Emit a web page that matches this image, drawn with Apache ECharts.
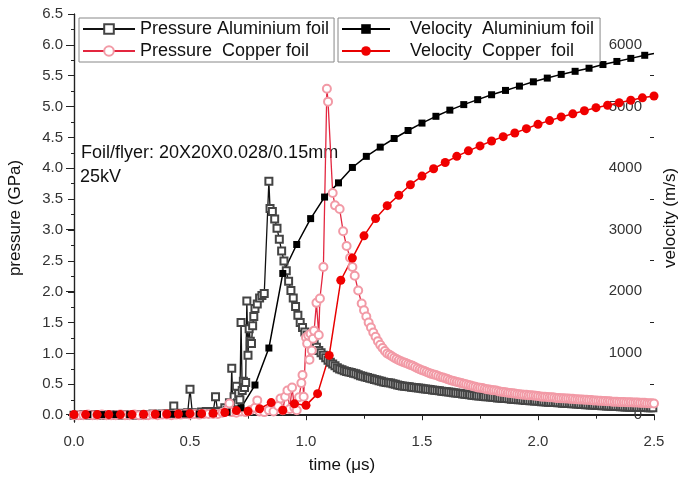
<!DOCTYPE html>
<html>
<head>
<meta charset="utf-8">
<script src="https://cdn.jsdelivr.net/npm/echarts@6/dist/echarts.min.js"></script>
<style>
  html, body { margin: 0; padding: 0; background: #fff; }
  #chart { width: 680px; height: 479px; }
</style>
</head>
<body>
<div id="chart"></div>
<script>
  // tick values
  const timeTicks = [0, 0.5, 1.0, 1.5, 2.0, 2.5]
  const pressureTicks = [0, 0.5, 1, 1.5, 2, 2.5, 3, 3.5, 4, 4.5, 5, 5.5, 6, 6.5]
  const pressureMinor = [0.25, 0.75, 1.25, 1.75, 2.25, 2.75, 3.25, 3.75, 4.25, 4.75, 5.25, 5.75, 6.25]
  const velocityTicks = [0, 1000, 2000, 3000, 4000, 5000, 6000]
  const velocityMinor = [500, 1500, 2500, 3500, 4500, 5500]

  // [time (us), pressure (GPa)]
  const pressureAl = [
    [0, 0], [0.02, 0], [0.04, 0.01], [0.06, 0], [0.08, 0.01], [0.10, 0], [0.12, 0.01], [0.14, 0],
    [0.16, 0], [0.18, 0.01], [0.20, 0], [0.22, 0.01], [0.24, 0], [0.26, 0], [0.28, 0.01], [0.30, 0],
    [0.32, 0.01], [0.34, 0.02], [0.36, 0.01], [0.38, 0.02], [0.40, 0.02], [0.42, 0.02], [0.43, 0.15],
    [0.44, 0.02], [0.46, 0.03], [0.48, 0.02], [0.49, 0.04], [0.50, 0.42], [0.51, 0.04], [0.53, 0.03],
    [0.55, 0.05], [0.57, 0.06], [0.59, 0.04], [0.60, 0.06], [0.61, 0.30], [0.62, 0.05], [0.64, 0.07],
    [0.65, 0.12], [0.66, 0.08], [0.67, 0.20], [0.675, 0.06], [0.68, 0.76], [0.685, 0.12], [0.69, 0.30],
    [0.70, 0.47], [0.705, 0.20], [0.71, 0.35], [0.715, 0.25], [0.72, 1.50], [0.725, 0.40], [0.73, 0.55],
    [0.735, 0.45], [0.74, 0.53], [0.745, 1.85], [0.75, 0.97], [0.755, 1.40], [0.76, 1.20], [0.765, 1.16],
    [0.77, 1.45], [0.775, 1.60], [0.78, 1.73], [0.79, 1.80], [0.80, 1.90], [0.81, 1.94], [0.82, 1.97],
    [0.84, 3.79], [0.845, 3.35], [0.855, 3.30], [0.865, 3.18], [0.875, 3.03], [0.885, 2.85], [0.895, 2.66],
    [0.905, 2.50], [0.915, 2.34], [0.925, 2.17], [0.935, 2.02], [0.945, 1.90], [0.955, 1.76], [0.965, 1.62],
    [0.975, 1.50], [0.985, 1.42], [0.995, 1.35], [1.005, 1.30], [1.015, 1.25], [1.025, 1.20], [1.035, 1.15],
    [1.045, 1.10], [1.055, 1.05], [1.065, 1.01], [1.075, 0.97], [1.085, 0.93], [1.095, 0.89], [1.105, 0.86],
    [1.115, 0.83], [1.125, 0.80], [1.135, 0.77], [1.145, 0.75], [1.155, 0.735], [1.165, 0.72], [1.175, 0.71],
    [1.185, 0.70], [1.195, 0.69], [1.205, 0.68], [1.215, 0.67], [1.225, 0.655], [1.235, 0.64], [1.245, 0.63],
    [1.255, 0.62], [1.265, 0.61], [1.275, 0.60], [1.285, 0.59], [1.295, 0.58], [1.305, 0.57], [1.315, 0.56],
    [1.325, 0.55], [1.335, 0.54], [1.345, 0.53], [1.355, 0.525], [1.365, 0.52], [1.375, 0.51], [1.385, 0.50],
    [1.395, 0.49], [1.405, 0.48], [1.415, 0.475], [1.425, 0.47], [1.435, 0.465], [1.445, 0.46], [1.455, 0.455],
    [1.465, 0.45], [1.475, 0.445], [1.485, 0.44], [1.495, 0.435], [1.505, 0.43], [1.515, 0.425], [1.525, 0.42],
    [1.535, 0.415], [1.545, 0.41], [1.555, 0.405], [1.565, 0.40], [1.575, 0.395], [1.585, 0.39], [1.595, 0.385],
    [1.605, 0.38], [1.615, 0.375], [1.625, 0.37], [1.635, 0.365], [1.645, 0.36], [1.655, 0.355], [1.665, 0.35],
    [1.675, 0.345], [1.685, 0.34], [1.695, 0.335], [1.705, 0.33], [1.715, 0.325], [1.725, 0.32], [1.735, 0.315],
    [1.745, 0.31], [1.755, 0.31], [1.765, 0.305], [1.775, 0.30], [1.785, 0.30], [1.795, 0.295], [1.805, 0.29],
    [1.815, 0.285], [1.825, 0.28], [1.835, 0.28], [1.845, 0.275], [1.855, 0.27], [1.865, 0.27], [1.875, 0.265],
    [1.885, 0.26], [1.895, 0.26], [1.905, 0.255], [1.915, 0.25], [1.925, 0.25], [1.935, 0.245], [1.945, 0.24],
    [1.955, 0.24], [1.965, 0.235], [1.975, 0.235], [1.985, 0.23], [1.995, 0.23], [2.005, 0.225], [2.015, 0.22],
    [2.025, 0.22], [2.035, 0.215], [2.045, 0.21], [2.055, 0.21], [2.065, 0.205], [2.075, 0.205], [2.085, 0.20],
    [2.095, 0.20], [2.105, 0.195], [2.115, 0.195], [2.125, 0.19], [2.135, 0.19], [2.145, 0.185], [2.155, 0.185],
    [2.165, 0.18], [2.175, 0.18], [2.185, 0.175], [2.195, 0.175], [2.205, 0.17], [2.215, 0.17], [2.225, 0.165],
    [2.235, 0.165], [2.245, 0.16], [2.255, 0.16], [2.265, 0.158], [2.275, 0.155], [2.285, 0.152], [2.295, 0.15],
    [2.305, 0.148], [2.315, 0.146], [2.325, 0.144], [2.335, 0.142], [2.345, 0.14], [2.355, 0.138], [2.365, 0.136],
    [2.375, 0.134], [2.385, 0.132], [2.395, 0.13], [2.405, 0.13], [2.415, 0.128], [2.425, 0.127], [2.435, 0.126],
    [2.445, 0.125], [2.455, 0.124], [2.465, 0.123], [2.475, 0.122], [2.485, 0.121], [2.495, 0.12]
  ]

  const pressureCu = [
    [0, 0], [0.02, 0], [0.04, 0], [0.06, 0.01], [0.08, 0], [0.10, 0], [0.12, 0.01], [0.14, 0],
    [0.16, 0], [0.18, 0], [0.20, 0.01], [0.22, 0], [0.24, 0], [0.26, 0.01], [0.28, 0], [0.30, 0],
    [0.32, 0], [0.34, 0.01], [0.36, 0], [0.38, 0.01], [0.40, 0.01], [0.42, 0], [0.44, 0.01], [0.46, 0.01],
    [0.48, 0.02], [0.50, 0.01], [0.52, 0.02], [0.54, 0.01], [0.56, 0.02], [0.58, 0.02], [0.60, 0.02],
    [0.62, 0.02], [0.64, 0.04], [0.66, 0.08], [0.67, 0.19], [0.68, 0.05], [0.70, 0.04], [0.72, 0.06],
    [0.74, 0.05], [0.76, 0.08], [0.78, 0.12], [0.79, 0.24], [0.80, 0.06], [0.82, 0.05], [0.84, 0.08],
    [0.86, 0.06], [0.88, 0.15], [0.89, 0.27], [0.90, 0.08], [0.91, 0.30], [0.92, 0.40], [0.93, 0.10],
    [0.94, 0.45], [0.95, 0.12], [0.96, 0.08], [0.97, 0.29], [0.98, 0.52], [0.985, 0.65], [0.99, 0.30],
    [1.00, 1.26], [1.005, 1.16], [1.01, 1.29], [1.015, 0.90], [1.02, 1.32], [1.025, 1.05], [1.03, 1.24],
    [1.035, 1.37], [1.045, 1.82], [1.055, 1.30], [1.06, 1.89], [1.075, 2.40], [1.09, 5.29], [1.095, 5.08],
    [1.115, 3.60], [1.125, 3.40], [1.145, 3.34], [1.16, 2.98], [1.175, 2.74], [1.19, 2.55], [1.20, 2.40],
    [1.21, 2.26], [1.225, 2.02], [1.24, 1.81], [1.25, 1.70], [1.26, 1.60], [1.27, 1.50], [1.28, 1.42],
    [1.29, 1.34], [1.30, 1.27], [1.31, 1.20], [1.32, 1.14], [1.33, 1.09], [1.34, 1.04], [1.35, 1.00],
    [1.36, 0.98], [1.37, 0.955], [1.38, 0.93], [1.39, 0.91], [1.40, 0.89], [1.41, 0.875], [1.42, 0.86],
    [1.43, 0.845], [1.44, 0.83], [1.45, 0.815], [1.46, 0.80], [1.47, 0.78], [1.48, 0.76], [1.49, 0.745],
    [1.50, 0.73], [1.51, 0.715], [1.52, 0.70], [1.53, 0.685], [1.54, 0.67], [1.55, 0.66], [1.56, 0.65],
    [1.57, 0.635], [1.58, 0.62], [1.59, 0.61], [1.60, 0.60], [1.61, 0.585], [1.62, 0.57], [1.63, 0.56],
    [1.64, 0.55], [1.65, 0.54], [1.66, 0.53], [1.67, 0.52], [1.68, 0.51], [1.69, 0.50], [1.70, 0.49],
    [1.71, 0.48], [1.72, 0.47], [1.73, 0.46], [1.74, 0.45], [1.75, 0.445], [1.76, 0.44], [1.77, 0.43],
    [1.78, 0.42], [1.79, 0.415], [1.80, 0.41], [1.81, 0.405], [1.82, 0.40], [1.83, 0.39], [1.84, 0.38],
    [1.85, 0.375], [1.86, 0.37], [1.87, 0.365], [1.88, 0.36], [1.89, 0.355], [1.90, 0.35], [1.91, 0.345],
    [1.92, 0.34], [1.93, 0.335], [1.94, 0.33], [1.95, 0.33], [1.96, 0.325], [1.97, 0.325], [1.98, 0.32],
    [1.99, 0.315], [2.00, 0.31], [2.01, 0.305], [2.02, 0.30], [2.03, 0.30], [2.04, 0.295], [2.05, 0.29],
    [2.06, 0.29], [2.07, 0.285], [2.08, 0.28], [2.09, 0.28], [2.10, 0.275], [2.11, 0.275], [2.12, 0.27],
    [2.13, 0.27], [2.14, 0.265], [2.15, 0.265], [2.16, 0.26], [2.17, 0.26], [2.18, 0.255], [2.19, 0.255],
    [2.20, 0.25], [2.21, 0.25], [2.22, 0.245], [2.23, 0.245], [2.24, 0.24], [2.25, 0.24], [2.26, 0.235],
    [2.27, 0.235], [2.28, 0.23], [2.29, 0.23], [2.30, 0.225], [2.31, 0.225], [2.32, 0.22], [2.33, 0.22],
    [2.34, 0.22], [2.35, 0.215], [2.36, 0.215], [2.37, 0.215], [2.38, 0.21], [2.39, 0.21], [2.40, 0.21],
    [2.41, 0.205], [2.42, 0.205], [2.43, 0.205], [2.44, 0.20], [2.45, 0.20], [2.46, 0.20], [2.47, 0.195],
    [2.48, 0.195], [2.49, 0.195], [2.50, 0.19]
  ]

  // [time (us), velocity (m/s)]
  const velocityAl = [
    [0, 0], [0.06, 0], [0.12, 0], [0.18, 0], [0.24, 0], [0.30, 0], [0.36, 5], [0.42, 5], [0.48, 10],
    [0.54, 10], [0.60, 20], [0.66, 40], [0.72, 110], [0.78, 480], [0.84, 1080], [0.90, 2290], [0.96, 2760],
    [1.02, 3180], [1.08, 3530], [1.14, 3760], [1.20, 4010], [1.26, 4190], [1.32, 4340], [1.38, 4480],
    [1.44, 4610], [1.50, 4730], [1.56, 4840], [1.62, 4940], [1.68, 5030], [1.74, 5110], [1.80, 5190],
    [1.86, 5260], [1.92, 5330], [1.98, 5400], [2.04, 5460], [2.10, 5520], [2.16, 5570], [2.22, 5620],
    [2.28, 5680], [2.34, 5730], [2.40, 5780], [2.46, 5830], [2.50, 5860]
  ]

  const velocityCu = [
    [0, 0], [0.05, 0], [0.10, 0], [0.15, 0], [0.20, 0], [0.25, 0], [0.30, 5], [0.35, 5], [0.40, 10],
    [0.45, 10], [0.50, 15], [0.55, 15], [0.60, 20], [0.65, 35], [0.70, 65], [0.75, 55], [0.80, 95],
    [0.85, 195], [0.90, 70], [0.95, 175], [1.00, 150], [1.05, 340], [1.10, 960], [1.15, 2180],
    [1.20, 2540], [1.25, 2900], [1.30, 3180], [1.35, 3390], [1.40, 3560], [1.45, 3730], [1.50, 3870],
    [1.55, 3990], [1.60, 4090], [1.65, 4190], [1.70, 4280], [1.75, 4360], [1.80, 4440], [1.85, 4510],
    [1.90, 4570], [1.95, 4640], [2.00, 4710], [2.05, 4770], [2.10, 4830], [2.15, 4880], [2.20, 4930],
    [2.25, 4980], [2.30, 5020], [2.35, 5060], [2.40, 5100], [2.45, 5140], [2.50, 5170]
  ]

  const font = '"Liberation Sans", Arial, sans-serif'
  const axisColor = '#222'
  const labelColor = '#333'

  const dom = echarts.init(document.getElementById('chart'))

  const option = {
    animation: false,
    backgroundColor: '#fff',
    textStyle: { fontFamily: font },
    grid: { left: 74, right: 26, top: 14, bottom: 57, outerBoundsMode: 'none' },
    legend: [
      {
        data: ['Pressure Aluminium foil', 'Pressure  Copper foil'],
        orient: 'vertical',
        left: 79,
        top: 18,
        padding: [2, 5, 2, 3],
        itemGap: 4,
        itemWidth: 52,
        itemHeight: 12,
        borderColor: '#888',
        borderWidth: 1,
        backgroundColor: '#fff',
        textStyle: { fontSize: 18, color: '#111', fontFamily: font }
      },
      {
        data: ['Velocity  Aluminium foil', 'Velocity  Copper  foil'],
        orient: 'vertical',
        left: 338,
        top: 18,
        padding: [2, 6, 2, 3],
        itemGap: 4,
        itemWidth: 48,
        itemHeight: 12,
        borderColor: '#888',
        borderWidth: 1,
        backgroundColor: '#fff',
        formatter: name => '   ' + name,
        textStyle: { fontSize: 18, color: '#111', fontFamily: font }
      }
    ],
    graphic: [
      { type: 'text', left: 81, top: 144, style: { text: 'Foil/flyer: 20X20X0.028/0.15mm', font: '18px ' + font, fill: '#111' } },
      { type: 'text', left: 80, top: 168, style: { text: '25kV', font: '18px ' + font, fill: '#111' } }
    ],
    xAxis: [
      {
        type: 'value',
        position: 'bottom',
        min: 0,
        max: 2.5,
        interval: 0.5,
        name: 'time (\u03bcs)',
        nameLocation: 'middle',
        nameGap: 35,
        nameTextStyle: { fontSize: 17, color: '#111', padding: [0, 44, 0, 0] },
        axisLine: { lineStyle: { color: axisColor, width: 1.2 } },
        axisTick: { inside: false, length: 5, lineStyle: { color: axisColor } },
        minorTick: { show: true, splitNumber: 2, length: 3, lineStyle: { color: axisColor } },
        axisLabel: { fontSize: 15, color: labelColor, margin: 12, formatter: v => v.toFixed(1), customValues: timeTicks },
        splitLine: { show: false },
        minorSplitLine: { show: false }
      },
      {
        type: 'value',
        position: 'top',
        min: 0,
        max: 2.5,
        interval: 0.25,
        axisLine: { show: true, lineStyle: { color: axisColor, width: 1.2 } },
        axisTick: { show: true, inside: true, length: 4, lineStyle: { color: axisColor } },
        axisLabel: { show: false },
        splitLine: { show: false }
      }
    ],
    yAxis: [
      {
        type: 'value',
        position: 'left',
        min: -0.11,
        max: 6.5,
        name: 'pressure (GPa)',
        nameLocation: 'middle',
        nameRotate: 90,
        nameGap: 50,
        nameTextStyle: { fontSize: 17, color: '#111' },
        axisLine: { show: true, lineStyle: { color: axisColor, width: 1.2 } },
        axisTick: { show: true, inside: false, length: 6, customValues: pressureTicks, lineStyle: { color: axisColor } },
        axisLabel: { fontSize: 15, color: labelColor, margin: 11, customValues: pressureTicks, formatter: v => v.toFixed(1) },
        splitLine: { show: false }
      },
      {
        type: 'value',
        position: 'right',
        min: -120,
        max: 6500,
        name: 'velocity (m/s)',
        nameLocation: 'middle',
        nameRotate: 90,
        nameGap: 8,
        nameTextStyle: { fontSize: 17, color: '#111' },
        axisLine: { show: true, lineStyle: { color: axisColor, width: 1.2 } },
        axisTick: { show: true, inside: true, length: 8, customValues: velocityTicks, lineStyle: { color: axisColor } },
        axisLabel: { inside: true, fontSize: 15, color: labelColor, margin: 12, customValues: velocityTicks, formatter: v => String(v) },
        splitLine: { show: false }
      },
      {
        type: 'value',
        position: 'left',
        min: -0.11,
        max: 6.5,
        axisLine: { show: false },
        axisTick: { show: true, inside: false, length: 3, customValues: pressureMinor, lineStyle: { color: axisColor } },
        axisLabel: { show: false },
        splitLine: { show: false }
      },
      {
        type: 'value',
        position: 'right',
        min: -120,
        max: 6500,
        axisLine: { show: false },
        axisTick: { show: true, inside: true, length: 4, customValues: velocityMinor, lineStyle: { color: axisColor } },
        axisLabel: { show: false },
        splitLine: { show: false }
      }
    ],
    series: [
      {
        name: 'Pressure Aluminium foil',
        type: 'line',
        xAxisIndex: 0,
        yAxisIndex: 0,
        data: pressureAl,
        symbol: 'emptyRect',
        symbolSize: 7,
        lineStyle: { color: '#111', width: 1.3 },
        itemStyle: { color: '#444', borderWidth: 1 }
      },
      {
        name: 'Pressure  Copper foil',
        type: 'line',
        xAxisIndex: 0,
        yAxisIndex: 0,
        data: pressureCu,
        symbol: 'emptyCircle',
        symbolSize: 8,
        lineStyle: { color: '#e3263f', width: 1.3 },
        itemStyle: { color: '#f29aa6', borderWidth: 1 }
      },
      {
        name: 'Velocity  Aluminium foil',
        type: 'line',
        xAxisIndex: 0,
        yAxisIndex: 1,
        data: velocityAl.map((p, i) => i === velocityAl.length - 1 ? { value: p, symbol: 'none' } : p),
        symbol: 'rect',
        symbolSize: 7,
        lineStyle: { color: '#000', width: 1.5 },
        itemStyle: { color: '#000' }
      },
      {
        name: 'Velocity  Copper  foil',
        type: 'line',
        xAxisIndex: 0,
        yAxisIndex: 1,
        data: velocityCu,
        symbol: 'circle',
        symbolSize: 9,
        lineStyle: { color: '#e80000', width: 1.5 },
        itemStyle: { color: '#f00000' }
      }
    ]
  }

  dom.setOption(option)
</script>
</body>
</html>
